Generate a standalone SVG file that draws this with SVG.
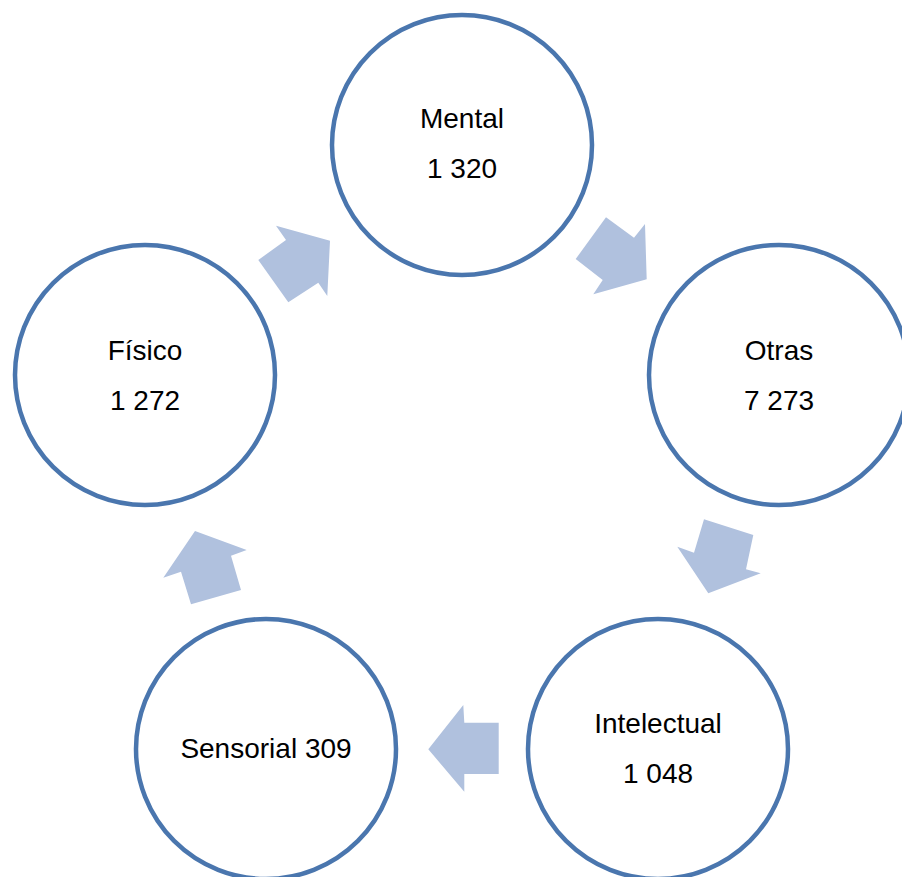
<svg xmlns="http://www.w3.org/2000/svg" width="902" height="877" viewBox="0 0 902 877">
<style>
.node circle{fill:#fff;stroke:#4A76AE;stroke-width:4.5}
.node text{font-family:"Liberation Sans",Arial,sans-serif;font-size:28px;fill:#000;text-anchor:middle}
.arrow{fill:#B0C1DE;stroke:none}
</style>
<rect width="902" height="877" fill="#fff"/>
<g id="connectors">
<polygon class="arrow" points="276,225.7 330,240.7 327.3,296 318.3,282.7 288.3,302.3 258.3,260 286,240"/>
<polygon class="arrow" points="606,217.3 634,237.7 645,224 646.7,279.3 593.3,294.3 602.7,280 575.7,259"/>
<polygon class="arrow" points="704,519.3 753.3,535 746,569.3 760.7,573.3 708.3,593.3 677.3,546.7 694,552.7"/>
<polygon class="arrow" points="463.3,705 464.3,722.7 498.7,722.7 498.7,774 464.3,774 464.3,791.7 428.3,749.3"/>
<polygon class="arrow" points="195,531 246.7,550 231,555.7 241,590 191,604.3 181,571.7 163.3,577.7"/>
</g>
<g id="mental" class="node">
<circle cx="462" cy="145" r="130"/>
<text x="462" y="128">Mental</text>
<text x="462" y="178">1 320</text>
</g>
<g id="otras" class="node">
<circle cx="779" cy="375" r="130"/>
<text x="779" y="360">Otras</text>
<text x="779" y="410">7 273</text>
</g>
<g id="intelectual" class="node">
<circle cx="658" cy="749" r="130"/>
<text x="658" y="733">Intelectual</text>
<text x="658" y="783">1 048</text>
</g>
<g id="sensorial" class="node">
<circle cx="266" cy="749" r="130"/>
<text x="266" y="758">Sensorial 309</text>
</g>
<g id="fisico" class="node">
<circle cx="145" cy="375" r="130"/>
<text x="145" y="360">Físico</text>
<text x="145" y="410">1 272</text>
</g>
</svg>
